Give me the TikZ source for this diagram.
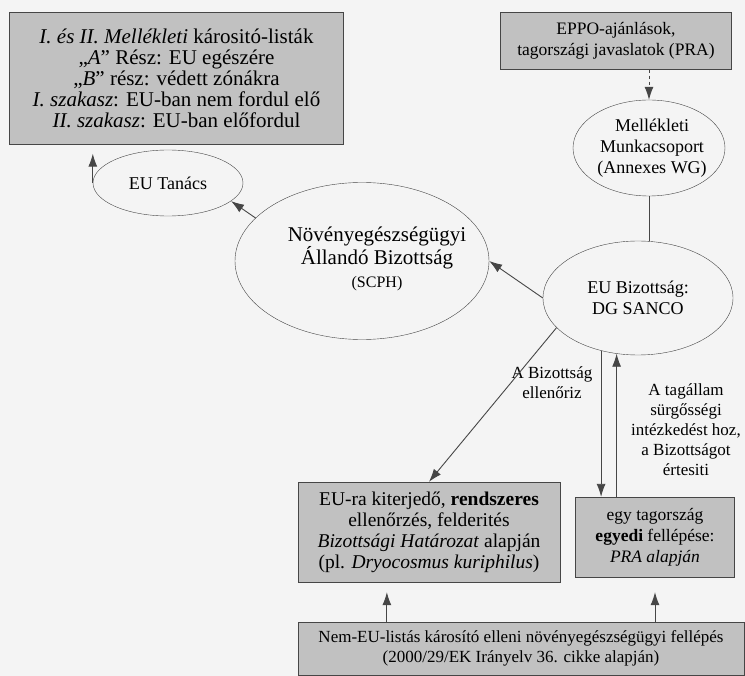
\documentclass[tikz,border=0pt]{standalone}
\usepackage{fontspec}
\setmainfont{Liberation Serif}
\usepackage{xcolor}
\usetikzlibrary{shapes.geometric, arrows.meta}

\definecolor{boxgray}{RGB}{193,193,193}
\definecolor{linegray}{RGB}{70,70,70}
\definecolor{paper}{RGB}{244,244,244}

\begin{document}
\begin{tikzpicture}[x=1pt, y=-1pt,
    greybox/.style={draw=linegray, fill=boxgray, align=center, inner sep=0pt,
        font=\fontsize{19.5}{21}\selectfont},
    oval/.style={draw=linegray, ellipse, inner sep=0pt},
    ovaltext/.style={align=center, font=\fontsize{18}{21}\selectfont},
    note/.style={align=center, font=\fontsize{17}{20}\selectfont},
    link/.style={draw=linegray, line width=0.9pt},
    pointer/.style={link, -{Latex[length=13pt, width=9pt]}}]

    % page
    \fill[paper] (0,0) rectangle (745,676);
    \useasboundingbox (0,0) rectangle (745,676);

    % Boxes at the top
    \node[greybox, minimum width=334, minimum height=132, font=\fontsize{21}{21}\selectfont]
        (list) at (176.5,78.5) {
        \textit{I. és II. Mellékleti} kárositó-listák\\
        „\textit{A}” Rész: EU egészére\\
        „\textit{B}” rész: védett zónákra\\
        \textit{I. szakasz}: EU-ban nem fordul elő\\
        \textit{II. szakasz}: EU-ban előfordul};
    \node[greybox, minimum width=231, minimum height=57, font=\fontsize{17.5}{21}\selectfont]
        (eppo) at (616,41) {
        EPPO-ajánlások,\\ tagországi javaslatok (PRA)};

    % Ellipses
    \node[oval, minimum width=152, minimum height=96] (melle) at (649,148) {};
    \node[ovaltext] (melletxt) at (652,148) {Mellékleti\\ Munkacsoport\\ (Annexes WG)};

    \node[oval, minimum width=190, minimum height=114] (sanco) at (638,298) {};
    \node[ovaltext] (sancotxt) at (638,298) {EU Bizottság:\\ DG SANCO};

    \node[oval, minimum width=254, minimum height=157] (scph) at (362,261) {};
    \node[ovaltext, font=\fontsize{21}{23}\selectfont] (scphtxt) at (377,259)
        {Növényegészségügyi\\ Állandó Bizottság\\ {\fontsize{16}{18}\selectfont (SCPH)}};

    \node[oval, minimum width=150, minimum height=66] (tanacs) at (168,183) {};
    \node[ovaltext] (tanacstxt) at (168,183) {EU Tanács};

    % Boxes at the bottom
    \node[greybox, minimum width=262, minimum height=100] (rend) at (429,532) {
        EU-ra kiterjedő, \textbf{rendszeres}\\
        ellenőrzés, felderités\\
        \textit{Bizottsági Határozat} alapján\\
        (pl. \textit{Dryocosmus kuriphilus})};
    \node[greybox, minimum width=159, minimum height=80, font=\fontsize{17.5}{21}\selectfont]
        (tag) at (655,537) {
        egy tagország\\ \textbf{egyedi} fellépése:\\ \textit{PRA alapján}};
    \node[greybox, minimum width=446, minimum height=53, font=\fontsize{17}{20}\selectfont]
        (nemeu) at (521,648.5) {
        Nem-EU-listás károsító elleni növényegészségügyi fellépés\\
        (2000/29/EK Irányelv 36. cikke alapján)};

    % Labels
    \node[note] (ellen) at (552,383) {A Bizottság\\ ellenőriz};
    \node[note] (tagall) at (686,430) {A tagállam\\ sürgősségi\\ intézkedést hoz,\\ a Bizottságot\\ értesiti};

    % Connectors
    \draw[pointer, dashed] (eppo.south -| melle.north) -- (melle.north);
    \draw[link] (melle.south) -- (melle.south |- sanco.north);
    \draw[pointer] (sanco.west) -- (scph.east);
    \draw[pointer] (scph.158) -- (tanacs.-16);
    \draw[pointer, shorten >=9pt] (tanacs.west) -- (tanacs.west |- list.south);
    \draw[pointer] (sanco.200) -- (rend.north);
    \draw[pointer] (sanco.235) -- (sanco.235 |- tag.north);
    \draw[pointer] (sanco.249 |- tag.north) -- (sanco.249);
    \draw[pointer, shorten >=10pt] (nemeu.north -| rend.230) -- (rend.230);
    \draw[pointer, shorten >=15pt] (nemeu.north -| tag.south) -- (tag.south);

\end{tikzpicture}
\end{document}
